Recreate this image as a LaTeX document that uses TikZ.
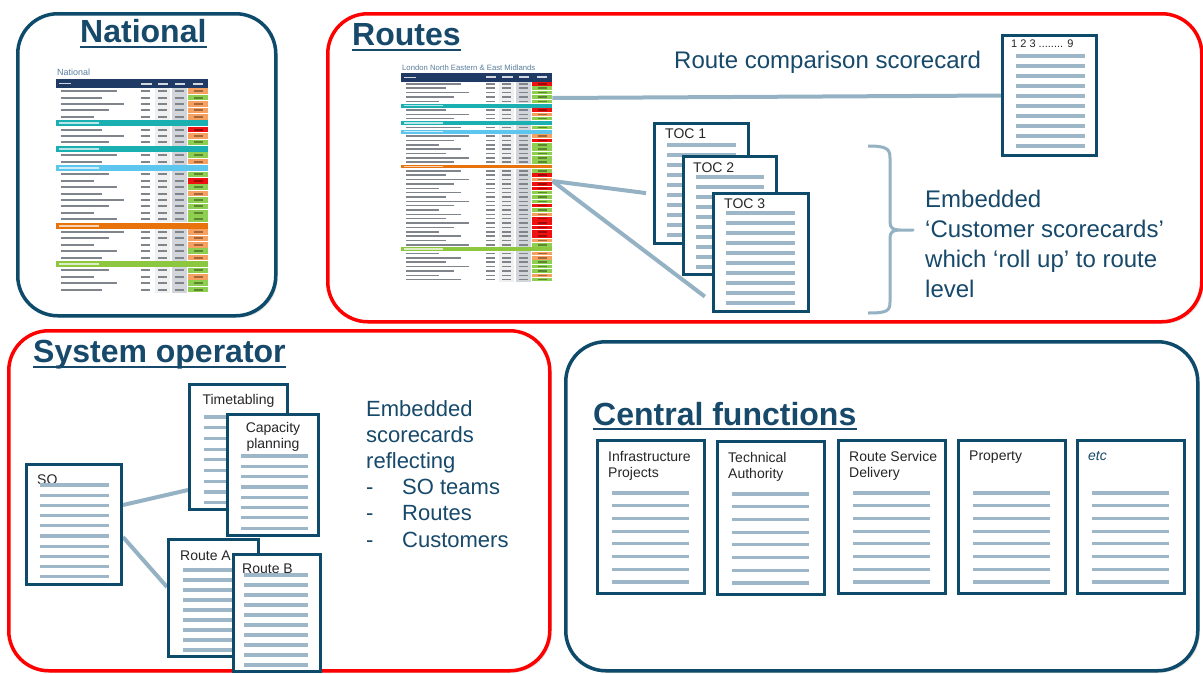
\documentclass[tikz,border=0pt]{standalone}
\usepackage{fontspec}
\setmainfont{Liberation Sans}
\usepackage{tikz}
\usetikzlibrary{arrows.meta,positioning,calc,shadows}
\definecolor{nrnavy}{HTML}{17496B}
\definecolor{docblue}{HTML}{0E4A6A}
\definecolor{boxred}{HTML}{FF0000}
\definecolor{barblue}{HTML}{9DB7C8}
\definecolor{linkblue}{HTML}{95B2C4}
\definecolor{tabnavy}{HTML}{1F3A64}
\definecolor{tabteal}{HTML}{1AAFB0}
\definecolor{tabsky}{HTML}{5DC6EE}
\definecolor{taborange}{HTML}{E8720C}
\definecolor{tabgreen}{HTML}{8DC63F}
\definecolor{okgreen}{HTML}{8FCF4F}
\definecolor{amber}{HTML}{F8A060}
\definecolor{badred}{HTML}{F01010}
\definecolor{tabgrey}{HTML}{D2D6DB}
\definecolor{tabink}{HTML}{80858C}
\definecolor{tabcap}{HTML}{5A7E9E}

\pgfdeclarelayer{boxlayer}
\pgfdeclarelayer{linklayer}
\pgfsetlayers{boxlayer,linklayer,main}

\tikzset{
  areabox/.style={
    rectangle, draw=#1, line width=3.5pt, fill=white,
    rounded corners=40pt, inner sep=0pt, anchor=north west,
    drop shadow={shadow xshift=2pt, shadow yshift=-2pt, opacity=0.25}
  },
  areabox/.default=docblue,
  areatitle/.style={
    font=\fontsize{32}{38}\selectfont\bfseries, text=nrnavy,
    inner sep=0pt, anchor=base west
  },
  titleline/.style={draw=nrnavy, line width=2.6pt},
  card/.style 2 args={
    rectangle, draw=docblue, fill=white, line width=3pt,
    minimum width=#1, minimum height=#2,
    inner sep=0pt, anchor=north west,
    drop shadow={shadow xshift=1.5pt, shadow yshift=-1.5pt, opacity=0.3}
  },
  cardlabel/.style={
    font=\fontsize{14}{16}\selectfont, text=black!85,
    inner sep=0pt, align=left
  },
  cardline/.style={draw=barblue, line width=3.2pt},
  feedline/.style={draw=linkblue, line width=4pt},
  bodytext/.style={
    font=\fontsize{24}{30}\selectfont, text=nrnavy,
    inner sep=0pt, align=left
  },
  tabframe/.style 2 args={
    rectangle, inner sep=0pt, anchor=north west,
    minimum width=#1, minimum height=#2
  },
  tabtitle/.style={text=tabcap, inner sep=0pt, anchor=base west},
}

% lines of a scorecard: node, count, first offset, step, left inset, right inset
\newcommand{\cardlines}[6]{%
  \foreach \k in {1,...,#2}
    \draw[cardline] ([xshift=#5pt, yshift={-(#3+(\k-1)*#4)*1pt}]#1.north west)
      -- ([xshift=-#6pt, yshift={-(#3+(\k-1)*#4)*1pt}]#1.north east);
}

% thumbnail of a scorecard table: x0, y0, width, row height, header height, rows
\newcommand{\scoretab}[6]{%
  \fill[tabnavy] (#1,#2) rectangle ({#1+#3},{#2+#5});
  \fill[white!80!tabnavy] ({#1+3},{#2+#5/2-0.6}) rectangle ({#1+15},{#2+#5/2+0.6});
  \foreach \hx in {0.56,0.67,0.78,0.90}
    \fill[white!80!tabnavy] ({#1+\hx*#3},{#2+#5/2-1}) rectangle ({#1+(\hx+0.07)*#3},{#2+#5/2+1});
  \foreach \kind/\col [count=\i] in {#6}{
    \pgfmathsetmacro\ya{#2+#5+(\i-1)*#4}
    \pgfmathsetmacro\yb{\ya+#4}
    \pgfmathsetmacro\ym{\ya+#4/2}
    \pgfmathsetmacro\hb{0.17*#4}
    \if\kind b
      \fill[\col] (#1,\ya+0.3) rectangle ({#1+#3},\yb-0.3);
      \fill[white, opacity=0.7] ({#1+3},\ym-\hb) rectangle ({#1+0.28*#3},\ym+\hb);
    \else
      \fill[black!6] ({#1+0.65*#3},\ya) rectangle ({#1+0.75*#3},\yb);
      \fill[tabgrey] ({#1+0.76*#3},\ya) rectangle ({#1+0.86*#3},\yb);
      \fill[\col] ({#1+0.87*#3},\ya+0.4) rectangle ({#1+#3},\yb-0.4);
      \pgfmathsetmacro\tw{0.22+0.05*mod(\i*3,5)}
      \fill[tabink] ({#1+0.03*#3},\ym-\hb) rectangle ({#1+(0.03+\tw)*#3},\ym+\hb);
      \foreach \cx in {0.56,0.67,0.78}
        \fill[tabink] ({#1+\cx*#3},\ym-\hb) rectangle ({#1+(\cx+0.06)*#3},\ym+\hb);
      \fill[black, opacity=0.35] ({#1+0.91*#3},\ym-\hb) rectangle ({#1+0.97*#3},\ym+\hb);
    \fi
  }%
}

\begin{document}
\begin{tikzpicture}[x=1pt, y=-1pt]
  \useasboundingbox (0,0) rectangle (1203,673);

  % Area frames
  \begin{pgfonlayer}{boxlayer}
    \node[areabox, minimum width=258pt, minimum height=302pt] (national) at (16,12) {};
    \node[areabox=boxred, minimum width=874pt, minimum height=308pt] (routes) at (326,12) {};
    \node[areabox=boxred, minimum width=541pt, minimum height=340pt] (sysop) at (7,329) {};
    \node[areabox, minimum width=632pt, minimum height=329pt] (central) at (564,340) {};
  \end{pgfonlayer}

  % Titles
  \node[areatitle] (natttl) at (80,42) {National};
  \node[areatitle] (rtettl) at (352,45) {Routes};
  \node[areatitle] (sottl) at (33,362) {System operator};
  \node[areatitle] (cfttl) at (593,425) {Central functions};
  \draw[titleline] ([yshift=-5pt]natttl.base west) -- ([yshift=-5pt]natttl.base east);
  \draw[titleline] ([yshift=-5pt]rtettl.base west) -- ([yshift=-5pt]rtettl.base east);
  \draw[titleline] ([yshift=-5pt]sottl.base west) -- ([yshift=-5pt]sottl.base east);
  \draw[titleline] ([yshift=-4pt]cfttl.base west) -- ([yshift=-4pt]cfttl.base east);

  % National scorecard
  \node[tabtitle, font=\fontsize{9}{10}\selectfont] (natcap) at (57,75) {National};
  \node[tabframe={152pt}{214pt}] (nattab) at (56,79) {};
  \scoretab{56}{79}{152}{6.4}{9}{r/amber, r/okgreen, r/amber, r/amber, r/amber,
    b/tabteal, r/badred, r/amber, r/okgreen,
    b/tabteal, r/okgreen, r/amber,
    b/tabsky, r/okgreen, r/badred, r/okgreen, r/amber, r/okgreen, r/okgreen, r/okgreen, r/okgreen,
    b/taborange, r/amber, r/amber, r/amber, r/okgreen, r/amber,
    b/tabgreen, r/okgreen, r/amber, r/okgreen, r/okgreen}

  % Route scorecard
  \node[tabtitle, font=\fontsize{7.7}{9}\selectfont] (rtecap) at (402,70) {London North Eastern \& East Midlands};
  \node[tabframe={151pt}{209pt}] (rtetab) at (401,73) {};
  \scoretab{401}{73}{151}{4.35}{8.7}{r/badred, r/okgreen, r/okgreen, r/okgreen, r/okgreen,
    b/tabteal, r/badred, r/amber, r/okgreen,
    b/tabteal, r/okgreen,
    b/tabsky, r/amber, r/badred, r/okgreen, r/okgreen, r/okgreen, r/okgreen, r/okgreen,
    b/taborange, r/okgreen, r/badred, r/amber, r/badred, r/badred, r/okgreen, r/okgreen, r/okgreen,
    r/badred, r/okgreen, r/amber, r/badred, r/badred, r/badred, r/badred, r/badred, r/amber, r/okgreen,
    b/tabgreen, r/amber, r/amber, r/okgreen, r/okgreen, r/okgreen, r/amber, r/okgreen}

  % Route comparison
  \node[bodytext, anchor=base west] (cmptxt) at (674,68) {Route comparison scorecard};
  \node[card={94pt}{120pt}] (score) at (1001,34) {};
  \node[cardlabel, font=\fontsize{11}{12}\selectfont, anchor=base west] (scorelbl)
    at ([xshift=10pt, yshift=-13pt]score.north west) {1 2 3 ........ 9};
  \cardlines{score}{10}{22}{10}{15}{13}

  % Customer scorecards
  \node[card={94pt}{120pt}] (toc1) at (653,122) {};
  \node[cardlabel, anchor=base west] (toc1lbl) at ([xshift=12pt, yshift=-16pt]toc1.north west) {TOC 1};
  \cardlines{toc1}{10}{23}{10}{14}{14}
  \node[card={93pt}{118pt}] (toc2) at (682,155) {};
  \node[cardlabel, anchor=base west] (toc2lbl) at ([xshift=11pt, yshift=-17pt]toc2.north west) {TOC 2};
  \cardlines{toc2}{10}{22}{10}{14}{14}
  \node[card={95pt}{118pt}] (toc3) at (712,192) {};
  \node[cardlabel, anchor=base west] (toc3lbl) at ([xshift=12pt, yshift=-16pt]toc3.north west) {TOC 3};
  \cardlines{toc3}{10}{21}{10}{14}{15}

  \draw[draw=linkblue, line width=3pt, line join=round]
    (868,146) .. controls (887,146) and (890,149) .. (890,158) -- (890,222)
    .. controls (890,228) and (893,230) .. (900,230) -- (913,230) -- (900,230)
    .. controls (893,230) and (890,232) .. (890,238) -- (890,302)
    .. controls (890,311) and (887,313) .. (868,313);
  \node[bodytext, anchor=north west] (custtxt) at (925,190)
    {Embedded\\‘Customer scorecards’\\which ‘roll up’ to route\\level};

  % System operator scorecards
  \node[card={95pt}{120pt}] (so) at (25,463) {};
  \node[cardlabel, anchor=base west] (solbl) at ([xshift=12pt, yshift=-21pt]so.north west) {SO};
  \cardlines{so}{10}{22}{10.2}{15}{14}
  \node[card={98pt}{125pt}] (timet) at (188,383) {};
  \node[cardlabel, anchor=base] (timetlbl) at ([yshift=-21pt]timet.north) {Timetabling};
  \cardlines{timet}{9}{34}{10.7}{16}{16}
  \node[card={91pt}{121pt}] (cap) at (226,413) {};
  \node[cardlabel, align=center, anchor=north] (caplbl) at ([yshift=-9pt]cap.north) {Capacity\\planning};
  \cardlines{cap}{8}{43}{10.3}{15}{12}
  \node[card={90pt}{117pt}] (routeA) at (167,538) {};
  \node[cardlabel, anchor=base west] (routeAlbl) at ([xshift=13pt, yshift=-22pt]routeA.north west) {Route A};
  \cardlines{routeA}{9}{32}{10}{16}{16}
  \node[card={87pt}{117pt}] (routeB) at (232,553) {};
  \node[cardlabel, anchor=base west] (routeBlbl) at ([xshift=10pt, yshift=-20pt]routeB.north west) {Route B};
  \cardlines{routeB}{10}{22}{10}{12}{14}

  \node[bodytext, font=\fontsize{22}{26.2}\selectfont, anchor=north west] (sotxt) at (366,400)
    {Embedded\\scorecards\\reflecting\\\makebox[36pt][l]{-}SO teams\\\makebox[36pt][l]{-}Routes\\\makebox[36pt][l]{-}Customers};

  % Central functions scorecards
  \node[card={107pt}{153pt}] (infra) at (596,439) {};
  \node[cardlabel, anchor=north west] (infralbl) at ([xshift=12pt, yshift=-12pt]infra.north west) {Infrastructure\\Projects};
  \cardlines{infra}{8}{54}{12.7}{16}{17}
  \node[card={107pt}{153pt}] (techauth) at (716,440) {};
  \node[cardlabel, anchor=north west] (techauthlbl) at ([xshift=12pt, yshift=-12pt]techauth.north west) {Technical\\Authority};
  \cardlines{techauth}{8}{54}{12.7}{16}{17}
  \node[card={107pt}{153pt}] (rsd) at (837,439) {};
  \node[cardlabel, anchor=north west] (rsdlbl) at ([xshift=12pt, yshift=-12pt]rsd.north west) {Route Service\\Delivery};
  \cardlines{rsd}{8}{54}{12.7}{16}{17}
  \node[card={107pt}{153pt}] (prop) at (957,439) {};
  \node[cardlabel, anchor=north west] (proplbl) at ([xshift=12pt, yshift=-12pt]prop.north west) {Property};
  \cardlines{prop}{8}{54}{12.7}{16}{17}
  \node[card={107pt}{153pt}] (etc) at (1076,439) {};
  \node[cardlabel, text=nrnavy, font=\fontsize{14}{16}\selectfont\itshape, anchor=north west] (etclbl)
    at ([xshift=12pt, yshift=-12pt]etc.north west) {etc};
  \cardlines{etc}{8}{54}{12.7}{16}{17}

  % Connectors
  \begin{pgfonlayer}{linklayer}
    \draw[feedline] ([yshift=-25pt]rtetab.north east) -- (score.west);
    \draw[feedline, shorten >=7pt] ([yshift=-108pt]rtetab.north east) -- ([yshift=-72pt]toc1.north west);
    \draw[feedline, shorten >=9pt] ([yshift=-108pt]rtetab.north east) -- ([yshift=-110pt]toc3.north west);
    \draw[feedline] ([yshift=-42pt]so.north east) -- ([yshift=-107pt]timet.north west);
    \draw[feedline] ([yshift=-74pt]so.north east) -- ([yshift=-49pt]routeA.north west);
  \end{pgfonlayer}
\end{tikzpicture}
\end{document}
